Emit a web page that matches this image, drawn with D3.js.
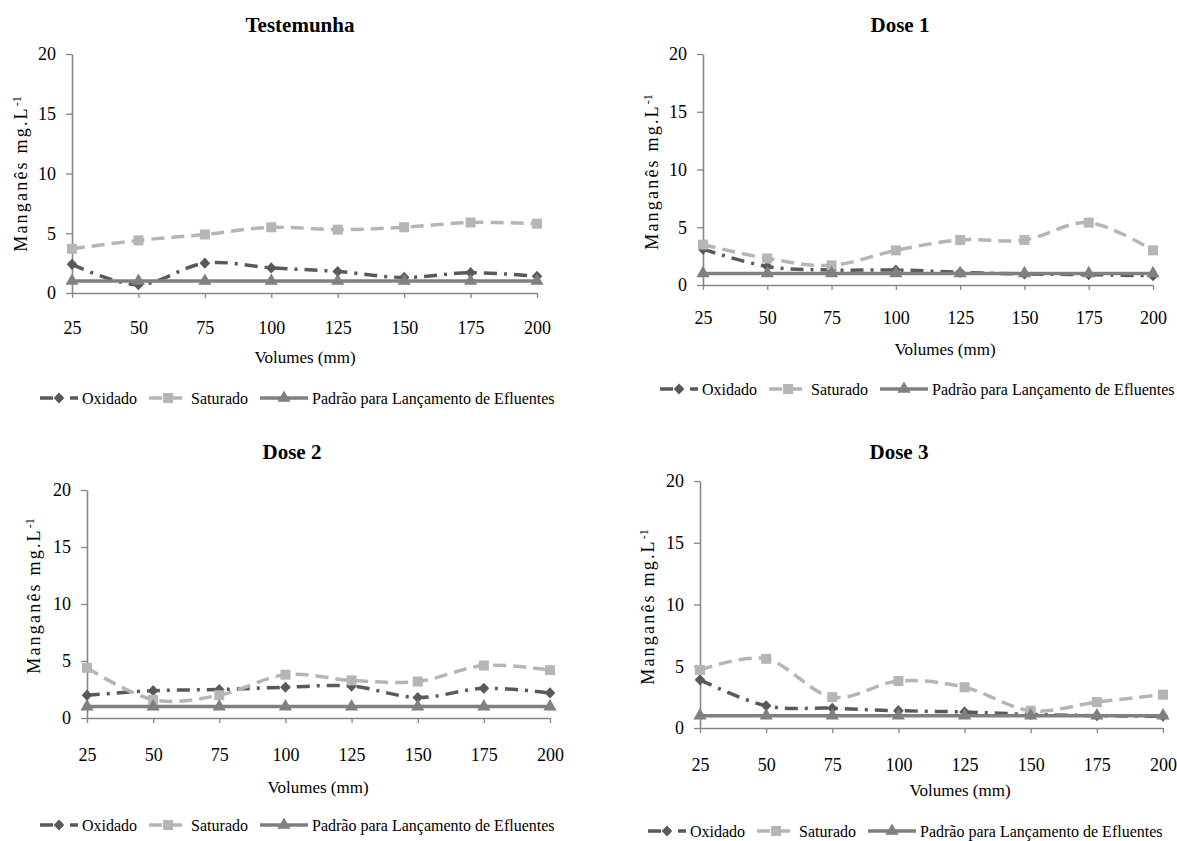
<!DOCTYPE html>
<html>
<head>
<meta charset="utf-8">
<script src="https://cdn.jsdelivr.net/npm/d3@7"></script>
<style>
  body { margin: 0; background: #fff; }
  text { font-family: "Liberation Serif", "Times New Roman", "DejaVu Serif", serif; fill: #000; }
</style>
</head>
<body>
<svg id="chart" width="1177" height="841"></svg>
<script>
// data
var volumes = [25, 50, 75, 100, 125, 150, 175, 200];
var yTickValues = [0, 5, 10, 15, 20];
var panelTitles = ["Testemunha", "Dose 1", "Dose 2", "Dose 3"];
var seriesNames = ["Oxidado", "Saturado", "Padrão para Lançamento de Efluentes"];

var oxidado = [
    [2.4, 0.7, 2.5, 2.1, 1.8, 1.3, 1.7, 1.4],
    [3.1, 1.6, 1.3, 1.3, 1.1, 0.95, 0.9, 0.8],
    [2.0, 2.4, 2.5, 2.7, 2.8, 1.8, 2.6, 2.2],
    [3.9, 1.8, 1.6, 1.4, 1.3, 1.1, 1.0, 0.95]
];
var saturado = [
    [3.7, 4.4, 4.9, 5.5, 5.3, 5.5, 5.9, 5.8],
    [3.5, 2.3, 1.7, 3.0, 3.9, 3.9, 5.4, 3.0],
    [4.4, 1.6, 2.0, 3.8, 3.3, 3.2, 4.6, 4.2],
    [4.7, 5.6, 2.5, 3.8, 3.3, 1.4, 2.1, 2.7]
];
var padrao = [
    [1, 1, 1, 1, 1, 1, 1, 1],
    [1, 1, 1, 1, 1, 1, 1, 1],
    [1, 1, 1, 1, 1, 1, 1, 1],
    [1, 1, 1, 1, 1, 1, 1, 1]
];

// layout of each panel (pixels)
var layout = [
    {x0: 72,  x1: 537,  yTop: 54,  yBot: 293, title: [300, 25],  xlab: [305, 357], ylab: [21, 174],  leg: [40, 398],  tickOff: 30},
    {x0: 703, x1: 1153, yTop: 54,  yBot: 285, title: [900, 25],  xlab: [945, 349], ylab: [652, 172], leg: [660, 389], tickOff: 28},
    {x0: 87,  x1: 550,  yTop: 490, yBot: 718, title: [292, 452], xlab: [318, 787], ylab: [34, 596],  leg: [40, 825],  tickOff: 32},
    {x0: 700, x1: 1163, yTop: 481, yBot: 728, title: [899, 452], xlab: [960, 790], ylab: [648, 607], leg: [648, 831], tickOff: 32}
];

var diamondType = {
    draw: function(ctx, size) {
        var r = Math.sqrt(size) / 2 * 1.25;
        ctx.moveTo(0, -r); ctx.lineTo(r * 0.95, 0); ctx.lineTo(0, r); ctx.lineTo(-r * 0.95, 0); ctx.closePath();
    }
};

var seriesStyle = [
    {color: "#595959", dash: "13,7,3,7", symbol: diamondType,        size: 80},
    {color: "#b5b5b5", dash: "13,7",     symbol: d3.symbolSquare,    size: 100},
    {color: "#808080", dash: null,       symbol: d3.symbolTriangle,  size: 75}
];

var axisColor = "#868686";
var serif = "'Liberation Serif', 'Times New Roman', serif";
var svg = d3.select("#chart");

function drawPanel(i) {
    var L = layout[i];
    var g = svg.append("g");

    var x = d3.scalePoint().domain(volumes).range([L.x0, L.x1]).padding(0);
    var y = d3.scaleLinear().domain([0, 20]).range([L.yBot, L.yTop]);

    g.append("text")
        .attr("x", L.title[0]).attr("y", L.title[1])
        .attr("text-anchor", "middle").attr("dy", "0.35em")
        .style("font-size", "21px").style("font-weight", "bold")
        .text(panelTitles[i]);

    var yAxis = g.append("g")
        .attr("transform", "translate(" + L.x0 + ",0)")
        .call(d3.axisLeft(y).tickValues(yTickValues).tickSize(6).tickSizeOuter(0).tickPadding(10));
    var xAxis = g.append("g")
        .attr("transform", "translate(0," + L.yBot + ")")
        .call(d3.axisBottom(x).tickSize(5).tickSizeOuter(0).tickPadding(L.tickOff - 7));

    [yAxis, xAxis].forEach(function(a) {
        a.attr("font-family", serif);
        a.select(".domain").attr("stroke", axisColor).attr("stroke-width", 1.6);
        a.selectAll(".tick line").attr("stroke", axisColor).attr("stroke-width", 1.3);
        a.selectAll(".tick text").style("font-size", "18px").attr("fill", "#000")
            .style("font-family", serif);
    });

    // axis titles
    g.append("text")
        .attr("x", L.xlab[0]).attr("y", L.xlab[1])
        .attr("text-anchor", "middle").attr("dy", "0.35em")
        .style("font-size", "17px")
        .text("Volumes (mm)");

    var yl = g.append("text")
        .attr("transform", "translate(" + L.ylab[0] + "," + L.ylab[1] + ") rotate(-90)")
        .attr("text-anchor", "middle").attr("dy", "0.35em")
        .style("font-size", "18px");
    yl.append("tspan").style("letter-spacing", "2.2px").text("Manganês  mg.L");
    yl.append("tspan").attr("dy", "-0.5em").style("font-size", "12px").text("-1");

    var values = [oxidado[i], saturado[i], padrao[i]];
    var line = d3.line()
        .x(function(d, j) { return x(volumes[j]); })
        .y(function(d) { return y(d); })
        .curve(d3.curveCardinal.tension(0));

    values.forEach(function(vals, s) {
        var st = seriesStyle[s];
        g.append("path")
            .datum(vals)
            .attr("d", line)
            .attr("fill", "none")
            .attr("stroke", st.color)
            .attr("stroke-width", 3.5)
            .attr("stroke-dasharray", st.dash);
        g.selectAll(".m" + s)
            .data(vals)
            .enter().append("path")
            .attr("class", "m" + s)
            .attr("transform", function(d, j) { return "translate(" + x(volumes[j]) + "," + y(d) + ")"; })
            .attr("d", d3.symbol().type(st.symbol).size(st.size))
            .attr("fill", st.color);
    });

    // legend
    var leg = g.append("g").attr("transform", "translate(" + L.leg[0] + "," + L.leg[1] + ")");
    var cursor = 0;
    seriesNames.forEach(function(name, s) {
        var st = seriesStyle[s];
        var sw = s === 2 ? 48 : 38;
        leg.append("line")
            .attr("x1", cursor).attr("x2", cursor + sw)
            .attr("stroke", st.color).attr("stroke-width", 3.5)
            .attr("stroke-dasharray", st.dash);
        leg.append("path")
            .attr("transform", "translate(" + (cursor + sw / 2) + ",0)")
            .attr("d", d3.symbol().type(st.symbol).size(st.size))
            .attr("fill", st.color);
        var t = leg.append("text")
            .attr("x", cursor + sw + 4).attr("dy", "0.35em")
            .style("font-size", "16px")
            .text(name);
        cursor += sw + 4 + t.node().getComputedTextLength() + 12;
    });
}

for (var i = 0; i < 4; i++) drawPanel(i);
</script>
</body>
</html>
